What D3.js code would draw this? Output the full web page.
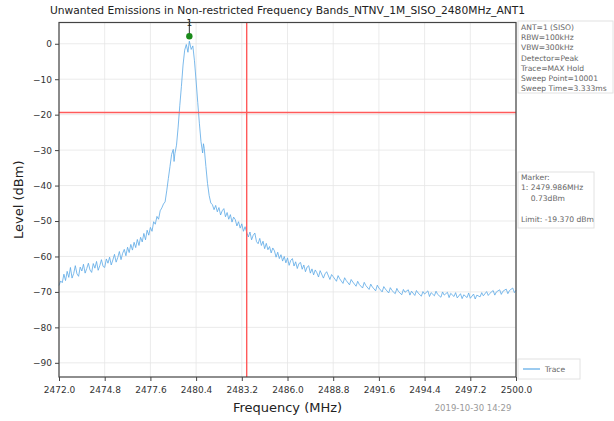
<!DOCTYPE html>
<html>
<head>
<meta charset="utf-8">
<script src="https://cdn.jsdelivr.net/npm/d3@7"></script>
<style>
  body { margin: 0; background: #fff; }
  text { font-family: "DejaVu Sans", sans-serif; }
  .grid line { stroke: #e6e6e6; stroke-width: 0.8; }
  .axis path, .axis line { stroke: #444; }
  .axis text { fill: #333; font-size: 9px; }
  .info text { fill: #666; font-size: 7.6px; }
</style>
</head>
<body>
<svg id="chart" width="614" height="421"></svg>
<script>
// trace: [frequency MHz, level dBm]
var trace = [
  [2472.0,-68.2],[2472.1,-66.9],[2472.2,-67.4],[2472.3,-65.0],[2472.4,-66.8],[2472.5,-64.2],
  [2472.6,-65.9],[2472.7,-63.1],[2472.8,-66.1],[2472.9,-64.8],[2473.0,-62.6],[2473.1,-64.9],
  [2473.2,-65.6],[2473.3,-63.0],[2473.4,-64.1],[2473.5,-62.2],[2473.6,-64.7],[2473.7,-63.4],
  [2473.8,-61.9],[2473.9,-63.8],[2474.0,-64.5],[2474.1,-62.0],[2474.2,-63.3],[2474.3,-61.4],
  [2474.4,-63.9],[2474.5,-62.6],[2474.6,-60.9],[2474.7,-62.8],[2474.8,-63.1],[2474.9,-60.7],
  [2475.0,-61.9],[2475.1,-60.2],[2475.2,-62.4],[2475.3,-61.0],[2475.4,-59.4],[2475.5,-61.6],
  [2475.6,-60.3],[2475.7,-58.6],[2475.8,-60.9],[2475.9,-59.1],[2476.0,-58.0],[2476.1,-59.8],
  [2476.2,-57.4],[2476.3,-58.9],[2476.4,-56.6],[2476.5,-58.2],[2476.6,-56.0],[2476.7,-57.5],
  [2476.8,-55.2],[2476.9,-56.9],[2477.0,-54.6],[2477.1,-55.9],[2477.2,-53.5],[2477.3,-55.3],
  [2477.4,-52.6],[2477.5,-54.0],[2477.6,-51.8],[2477.7,-52.9],[2477.8,-50.2],[2477.9,-50.9],
  [2478.0,-48.7],[2478.1,-49.5],[2478.2,-47.1],[2478.3,-46.3],[2478.4,-45.2],[2478.5,-44.6],
  [2478.6,-41.5],[2478.7,-38.0],[2478.8,-34.6],[2478.9,-31.2],[2479.0,-29.8],[2479.05,-33.2],
  [2479.1,-31.0],[2479.2,-28.6],[2479.3,-23.5],[2479.4,-17.5],[2479.5,-12.0],[2479.6,-6.0],
  [2479.7,-1.8],[2479.8,-0.2],[2479.9,-2.4],[2479.986,0.73],[2480.1,-1.6],[2480.2,-0.6],
  [2480.3,-4.8],[2480.4,-10.5],[2480.5,-16.5],[2480.6,-22.4],[2480.7,-27.6],[2480.8,-30.8],
  [2480.85,-28.2],[2480.9,-29.5],[2481.0,-34.6],[2481.1,-39.4],[2481.2,-42.8],[2481.3,-44.9],
  [2481.4,-45.4],[2481.5,-46.8],[2481.6,-45.6],[2481.7,-47.4],[2481.8,-46.2],[2481.9,-48.3],
  [2482.0,-47.1],[2482.1,-46.5],[2482.2,-48.8],[2482.3,-47.6],[2482.4,-49.5],[2482.5,-48.2],
  [2482.6,-50.3],[2482.7,-48.9],[2482.8,-49.6],[2482.9,-51.4],[2483.0,-50.2],[2483.1,-52.0],
  [2483.2,-50.8],[2483.3,-52.9],[2483.4,-51.6],[2483.5,-53.2],[2483.6,-54.5],[2483.7,-53.1],
  [2483.8,-55.3],[2483.9,-54.0],[2484.0,-53.4],[2484.1,-55.8],[2484.2,-56.4],[2484.3,-54.9],
  [2484.4,-56.9],[2484.5,-55.7],[2484.6,-57.8],[2484.7,-56.3],[2484.8,-58.1],[2484.9,-57.2],
  [2485.0,-59.0],[2485.1,-57.6],[2485.2,-58.4],[2485.3,-60.2],[2485.4,-58.8],[2485.5,-60.6],
  [2485.6,-59.5],[2485.7,-61.3],[2485.8,-60.0],[2485.9,-61.8],[2486.0,-60.4],[2486.1,-62.5],
  [2486.2,-61.1],[2486.3,-60.6],[2486.4,-62.7],[2486.5,-61.5],[2486.6,-63.4],[2486.7,-62.0],
  [2486.8,-61.7],[2486.9,-63.6],[2487.0,-62.4],[2487.1,-64.3],[2487.2,-63.0],[2487.3,-62.6],
  [2487.4,-64.7],[2487.5,-63.5],[2487.6,-65.2],[2487.7,-63.8],[2487.8,-64.6],[2487.9,-65.8],
  [2488.0,-64.0],[2488.2,-66.1],[2488.3,-64.9],[2488.4,-64.3],[2488.6,-66.5],[2488.7,-65.1],
  [2488.8,-65.7],[2489.0,-67.0],[2489.1,-65.4],[2489.2,-66.3],[2489.4,-67.6],[2489.5,-66.0],
  [2489.6,-66.8],[2489.8,-68.0],[2489.9,-66.5],[2490.0,-67.2],[2490.2,-68.4],[2490.3,-67.0],
  [2490.4,-67.9],[2490.6,-68.9],[2490.7,-67.3],[2490.8,-68.2],[2491.0,-69.3],[2491.1,-67.8],
  [2491.2,-68.6],[2491.4,-69.7],[2491.5,-68.1],[2491.6,-68.9],[2491.8,-70.0],[2491.9,-68.5],
  [2492.0,-69.2],[2492.2,-70.3],[2492.3,-68.8],[2492.4,-69.6],[2492.6,-70.5],[2492.7,-69.0],
  [2492.8,-69.9],[2493.0,-70.8],[2493.1,-69.3],[2493.2,-70.1],[2493.4,-69.4],[2493.5,-70.9],
  [2493.6,-69.8],[2493.8,-71.0],[2493.9,-69.6],[2494.0,-70.3],[2494.2,-71.2],[2494.3,-69.9],
  [2494.4,-70.6],[2494.6,-69.7],[2494.7,-71.3],[2494.8,-70.2],[2495.0,-71.1],[2495.1,-69.8],
  [2495.2,-70.7],[2495.4,-71.5],[2495.5,-70.0],[2495.6,-70.9],[2495.8,-70.1],[2495.9,-71.6],
  [2496.0,-70.4],[2496.2,-71.3],[2496.3,-70.2],[2496.4,-71.7],[2496.6,-70.5],[2496.7,-71.9],
  [2496.8,-70.8],[2497.0,-71.6],[2497.1,-70.3],[2497.2,-71.8],[2497.4,-70.6],[2497.5,-72.0],
  [2497.6,-70.9],[2497.8,-71.4],[2497.9,-70.2],[2498.0,-71.1],[2498.2,-69.9],[2498.3,-71.0],
  [2498.4,-70.4],[2498.6,-69.6],[2498.7,-70.9],[2498.8,-70.0],[2499.0,-69.4],[2499.1,-70.7],
  [2499.2,-69.8],[2499.4,-69.2],[2499.5,-70.5],[2499.6,-69.6],[2499.8,-68.9],[2499.9,-70.2],
  [2500.0,-69.5]
];

var xTicks = [2472.0, 2474.8, 2477.6, 2480.4, 2483.2, 2486.0, 2488.8, 2491.6, 2494.4, 2497.2, 2500.0];
var yTicks = [0, -10, -20, -30, -40, -50, -60, -70, -80, -90];

var limitLevel = -19.37;
var bandEdge = 2483.5;
var marker = {freq: 2479.986, level: 0.73, label: "1"};

var infoLines = ["ANT=1 (SISO)", "RBW=100kHz", "VBW=300kHz", "Detector=Peak",
                 "Trace=MAX Hold", "Sweep Point=10001", "Sweep Time=3.333ms"];
var markerLines = ["Marker:", "1: 2479.986MHz", "    0.73dBm", "", "Limit: -19.370 dBm"];

var svg = d3.select("#chart"),
    margin = {top: 22.5, right: 98, bottom: 44, left: 59},
    width = +svg.attr("width") - margin.left - margin.right,
    height = +svg.attr("height") - margin.top - margin.bottom;

var g = svg.append("g")
    .attr("transform", "translate(" + margin.left + "," + margin.top + ")");

var x = d3.scaleLinear().domain([2472, 2500]).range([0, width]);
var y = d3.scaleLinear().domain([-94, 6]).range([height, 0]);

// grid
g.append("g").attr("class", "grid")
    .selectAll("line").data(xTicks).enter().append("line")
    .attr("x1", function(d) { return x(d); }).attr("x2", function(d) { return x(d); })
    .attr("y1", 0).attr("y2", height);
g.append("g").attr("class", "grid")
    .selectAll("line").data(yTicks).enter().append("line")
    .attr("x1", 0).attr("x2", width)
    .attr("y1", function(d) { return y(d); }).attr("y2", function(d) { return y(d); });

// trace
var line = d3.line()
    .x(function(d) { return x(d[0]); })
    .y(function(d) { return y(d[1]); });

g.append("path")
    .datum(trace)
    .attr("fill", "none")
    .attr("stroke", "#5aa8e6")
    .attr("stroke-width", 0.8)
    .attr("d", line);

// limit and band edge
g.append("line")
    .attr("x1", 0).attr("x2", width)
    .attr("y1", y(limitLevel)).attr("y2", y(limitLevel))
    .attr("stroke", "#ff5a5a").attr("stroke-width", 1.4);
g.append("line")
    .attr("x1", x(bandEdge)).attr("x2", x(bandEdge))
    .attr("y1", 0).attr("y2", height)
    .attr("stroke", "#ff5a5a").attr("stroke-width", 1.4);

// marker
var mx = x(marker.freq), my = y(marker.level) - 5;
g.append("line")
    .attr("x1", mx).attr("x2", mx).attr("y1", -2).attr("y2", my)
    .attr("stroke", "#333").attr("stroke-width", 1);
g.append("circle")
    .attr("cx", mx).attr("cy", my).attr("r", 3.2)
    .attr("fill", "#1a8a1a");
g.append("text")
    .attr("x", mx).attr("y", 3)
    .attr("text-anchor", "middle")
    .style("font-size", "9px").style("fill", "#222")
    .text(marker.label);

// axes
var xAxisCall = d3.axisBottom(x).tickValues(xTicks).tickSize(4)
    .tickFormat(d3.format(".1f"));
var yAxisCall = d3.axisLeft(y).tickValues(yTicks).tickSize(4)
    .tickFormat(function(d) { return d < 0 ? "\u2212" + Math.abs(d) : d; });

g.append("g")
    .attr("class", "x axis")
    .attr("transform", "translate(0," + height + ")")
    .call(xAxisCall)
    .call(function(s) { s.select(".domain").remove(); })
    .selectAll("text").attr("dy", "1.05em");

g.append("g")
    .attr("class", "y axis")
    .call(yAxisCall)
    .call(function(s) { s.select(".domain").remove(); });

g.append("rect")
    .attr("width", width).attr("height", height)
    .attr("fill", "none").attr("stroke", "#444").attr("stroke-width", 1.2);

// labels
svg.append("text")
    .attr("x", margin.left + width / 2).attr("y", 14)
    .attr("text-anchor", "middle")
    .style("font-size", "10.7px").style("fill", "#222")
    .text("Unwanted Emissions in Non-restricted Frequency Bands_NTNV_1M_SISO_2480MHz_ANT1");

svg.append("text")
    .attr("x", margin.left + width / 2).attr("y", 412)
    .attr("text-anchor", "middle")
    .style("font-size", "13px").style("fill", "#222")
    .text("Frequency (MHz)");

svg.append("text")
    .attr("transform", "translate(23," + (margin.top + height / 2) + ") rotate(-90)")
    .attr("text-anchor", "middle")
    .style("font-size", "13px").style("fill", "#222")
    .text("Level (dBm)");

svg.append("text")
    .attr("x", 473).attr("y", 411)
    .attr("text-anchor", "middle")
    .style("font-size", "8.5px").style("fill", "#999")
    .text("2019-10-30 14:29");

// info boxes on the right
var boxX = margin.left + width + 2;

var info = svg.append("g").attr("class", "info");
info.append("rect")
    .attr("x", boxX).attr("y", 21).attr("width", 95).attr("height", 72)
    .attr("fill", "#fff").attr("stroke", "#e2e2e2");
info.selectAll(".l1").data(infoLines).enter().append("text")
    .attr("class", "l1")
    .attr("x", boxX + 3)
    .attr("y", function(d, i) { return 30 + i * 10.2; })
    .text(function(d) { return d; });

info.append("rect")
    .attr("x", boxX).attr("y", 172).attr("width", 76).attr("height", 56)
    .attr("fill", "#fff").attr("stroke", "#e2e2e2");
info.selectAll(".l2").data(markerLines).enter().append("text")
    .attr("class", "l2")
    .attr("x", boxX + 3)
    .attr("y", function(d, i) { return 180 + i * 10.4; })
    .attr("xml:space", "preserve")
    .style("white-space", "pre")
    .text(function(d) { return d; });

var legend = svg.append("g").attr("class", "info");
legend.append("rect")
    .attr("x", boxX).attr("y", 359).attr("width", 62).attr("height", 20)
    .attr("fill", "#fff").attr("stroke", "#e2e2e2");
legend.append("line")
    .attr("x1", boxX + 5).attr("x2", boxX + 22)
    .attr("y1", 369).attr("y2", 369)
    .attr("stroke", "#5aa8e6").attr("stroke-width", 1.2);
legend.append("text")
    .attr("x", boxX + 27).attr("y", 372)
    .text("Trace");
</script>
</body>
</html>
